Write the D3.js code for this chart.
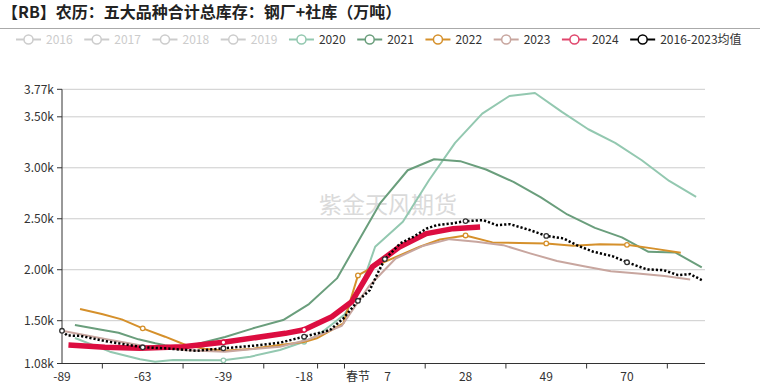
<!DOCTYPE html>
<html>
<head>
<meta charset="utf-8">
<script src="https://cdn.jsdelivr.net/npm/d3@7"></script>
<style>
  body { margin: 0; background: #fff; }
  svg { display: block; font-family: "Noto Sans CJK SC", "Noto Sans", sans-serif; }
</style>
</head>
<body>
<svg id="chart" width="760" height="388"></svg>
<script>
// x values are axis slots of the category axis (labels sit on slot 0, 3, 6 ...)
const xLabels = ['-89', '-63', '-39', '-18', '春节', '7', '28', '49', '70'];
const xLabelSlots = [0, 3, 6, 9, 11, 12.1, 15, 18, 21];
const xTickSlots = [1.5, 4.5, 7.5, 9.5, 10.5, 13.5, 16.5, 19.5, 22.5];
const yTicks = [1080, 1500, 2000, 2500, 3000, 3500, 3770];

const legendNames = ['2016', '2017', '2018', '2019', '2020', '2021', '2022', '2023', '2024', '2016-2023均值'];
const hiddenNames = ['2016', '2017', '2018', '2019'];

// [slot, 万吨]
const s2020 = [[0.48,1330],[1.78,1196],[2.9,1121],[3.46,1098],[4.13,1114],[6,1111],[7,1147],[8.1,1212],[9,1294],
  [9.53,1359],[10.5,1560],[11.1,1817],[11.64,2225],[12.67,2470],[13.64,2878],[14.61,3244],[15.62,3532],[16.63,3704],
  [17.58,3734],[18.58,3548],[19.56,3378],[20.56,3244],[21.55,3074],[22.57,2871],[23.57,2715]];
const s2021 = [[0.48,1457],[1.36,1415],[2.1,1382],[2.84,1317],[3.47,1278],[3.83,1260],[4.5,1235],[5.32,1290],[6.06,1340],
  [7.1,1425],[8.22,1506],[9.18,1663],[10.22,1915],[11.82,2650],[12.85,2976],[13.83,3084],[14.8,3065],[15.76,2983],
  [16.78,2862],[17.8,2709],[18.78,2542],[19.81,2411],[20.81,2317],[21.8,2176],[22.79,2170],[23.78,2023]];
const s2022 = [[0.67,1614],[1.48,1565],[2.22,1513],[3,1425],[3.83,1343],[4.6,1261],[5.3,1225],[6.06,1206],[7.1,1225],
  [8.1,1262],[9,1290],[9.47,1327],[10.46,1474],[11,1944],[11.57,2029],[12.57,2143],[13.3,2225],[14.05,2297],[15,2336],
  [16,2268],[17,2261],[18,2258],[19,2234],[20,2251],[21,2244],[22,2207],[23,2166]];
const s2023 = [[0.05,1398],[1.6,1320],[3,1255],[4.6,1210],[6.06,1196],[8.1,1245],[9.1,1310],[10.4,1450],[11.4,1835],
  [12.4,2110],[13.4,2232],[14.4,2300],[15.4,2275],[16.4,2241],[17.4,2160],[18.4,2085],[19.4,2035],[20.4,1986],
  [21.4,1964],[22.4,1938],[23.35,1905]];
const s2024 = [[0.24,1261],[1.6,1239],[2.9,1229],[4.5,1245],[6,1288],[8.3,1376],[9,1411],[10.03,1539],[10.77,1686],
  [11.54,2029],[12.54,2222],[13.54,2354],[14.54,2403],[15.54,2418]];
const sAvg = [[0,1401],[0.2,1354],[0.67,1352],[1.6,1300],[3,1239],[3.83,1229],[5,1205],[6,1229],[7.1,1254],[8.1,1284],
  [9,1343],[9.96,1408],[10.46,1523],[11,1695],[11.44,1800],[11.76,1980],[12,2104],[12.57,2258],[13.06,2323],
  [13.56,2405],[13.93,2437],[14.49,2454],[15,2477],[15.66,2486],[16.16,2437],[16.65,2447],[17.4,2388],[18,2332],
  [18.64,2307],[19.13,2241],[19.75,2176],[20.45,2134],[21,2073],[21.74,2003],[22.36,1996],[22.9,1947],[23.35,1957],
  [23.78,1898]];

// slots where a symbol is shown
const marks2020 = [6, 9];
const marks2022 = [3, 11, 15, 18, 21];
const marks2024 = [6, 9];
const marksAvg = [0, 3, 6, 9, 11, 12, 15, 18, 21];

const series = [
  {name: '2020', data: s2020, color: '#93c8b0', width: 2, marks: marks2020},
  {name: '2021', data: s2021, color: '#6a9e7c', width: 2, marks: []},
  {name: '2022', data: s2022, color: '#d5902b', width: 2, marks: marks2022},
  {name: '2023', data: s2023, color: '#c8a69f', width: 2, marks: []},
  {name: '2024', data: s2024, color: '#dc0d40', width: 5.5, marks: marks2024},
  {name: '2016-2023均值', data: sAvg, color: '#000', width: 2.5, dash: '2.2 2', marks: marksAvg}
];

const legendColors = {'2020': '#93c8b0', '2021': '#6a9e7c', '2022': '#d5902b', '2023': '#c8a69f',
  '2024': '#e0466c', '2016-2023均值': '#000'};

const svg = d3.select('#chart');
const margin = {left: 62, right: 55, top: 89.3, bottom: 24.5};
const W = 760, H = 388;

const x = d3.scaleLinear().domain([0, 23.9]).range([margin.left, W - margin.right]);
const y = d3.scaleLinear().domain([1080, 3770]).range([H - margin.bottom, margin.top]);

// title
svg.append('text')
  .attr('x', 2).attr('y', 18)
  .attr('font-size', 16).attr('font-weight', 'bold').attr('fill', '#222')
  .text('【RB】农历：五大品种合计总库存：钢厂+社库（万吨）');
svg.append('line')
  .attr('x1', 0).attr('x2', W).attr('y1', 28.5).attr('y2', 28.5)
  .attr('stroke', '#aaa').attr('stroke-width', 1);

// legend
let lx = 16;
const legend = svg.append('g');
legendNames.forEach(name => {
  const off = hiddenNames.includes(name);
  const c = off ? '#ccc' : legendColors[name];
  const g = legend.append('g').attr('transform', `translate(${lx},39.5)`);
  g.append('line').attr('x1', 0).attr('x2', 25).attr('stroke', c).attr('stroke-width', 2);
  g.append('circle').attr('cx', 12.5).attr('r', 4.5).attr('fill', '#fff').attr('stroke', c).attr('stroke-width', 1.5);
  const t = g.append('text').attr('x', 30).attr('dy', '0.35em')
    .attr('font-size', 12).attr('fill', off ? '#ccc' : '#333').text(name);
  lx += 30 + t.node().getComputedTextLength() + 11.6;
});

// watermark
svg.append('text')
  .attr('x', 388).attr('y', 205).attr('dy', '0.35em')
  .attr('text-anchor', 'middle').attr('font-size', 23).attr('fill', '#dadada')
  .text('紫金天风期货');

// grid
svg.append('g').selectAll('line')
  .data(yTicks.filter(v => v !== 1080))
  .join('line')
  .attr('x1', x.range()[0]).attr('x2', x.range()[1])
  .attr('y1', d => y(d)).attr('y2', d => y(d))
  .attr('stroke', '#ccc').attr('stroke-width', 1);

// y axis
const yAxis = svg.append('g');
yAxis.append('line')
  .attr('x1', x.range()[0]).attr('x2', x.range()[0])
  .attr('y1', y.range()[0]).attr('y2', y.range()[1])
  .attr('stroke', '#333');
yAxis.selectAll('.tk').data(yTicks).join('line').attr('class', 'tk')
  .attr('x1', x.range()[0] - 5).attr('x2', x.range()[0])
  .attr('y1', d => y(d)).attr('y2', d => y(d)).attr('stroke', '#333');
yAxis.selectAll('text').data(yTicks).join('text')
  .attr('x', x.range()[0] - 8).attr('y', d => y(d)).attr('dy', '0.35em')
  .attr('text-anchor', 'end').attr('font-size', 12).attr('fill', '#333')
  .text(d => (d / 1000).toFixed(2) + 'k');

// x axis
const xAxis = svg.append('g');
xAxis.append('line')
  .attr('x1', x.range()[0]).attr('x2', x.range()[1])
  .attr('y1', y.range()[0]).attr('y2', y.range()[0])
  .attr('stroke', '#333');
xAxis.selectAll('.tk').data(xTickSlots).join('line').attr('class', 'tk')
  .attr('x1', d => x(d)).attr('x2', d => x(d))
  .attr('y1', y.range()[0]).attr('y2', y.range()[0] + 5).attr('stroke', '#333');
xAxis.selectAll('text').data(xLabels).join('text')
  .attr('x', (d, i) => x(xLabelSlots[i])).attr('y', y.range()[0] + 13).attr('dy', '0.35em')
  .attr('text-anchor', 'middle').attr('font-size', 12).attr('fill', '#333')
  .text(d => d);

// series
const line = d3.line().x(d => x(d[0])).y(d => y(d[1]));
const plot = svg.append('g');
series.forEach(s => {
  plot.append('path')
    .datum(s.data)
    .attr('d', line)
    .attr('fill', 'none')
    .attr('stroke', s.color)
    .attr('stroke-width', s.width)
    .attr('stroke-linejoin', 'round')
    .attr('stroke-dasharray', s.dash || null);
  plot.append('g').selectAll('circle')
    .data(s.data.filter(d => s.marks.includes(d[0])))
    .join('circle')
    .attr('cx', d => x(d[0])).attr('cy', d => y(d[1]))
    .attr('r', 2.3)
    .attr('fill', '#fff')
    .attr('stroke', s.name === '2016-2023均值' ? '#333' : s.color)
    .attr('stroke-width', 1.3);
});
</script>
</body>
</html>
